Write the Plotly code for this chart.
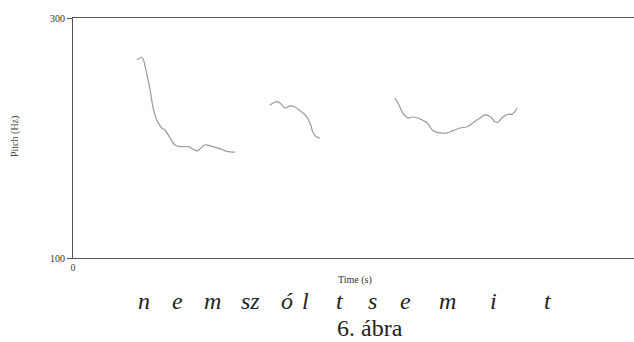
import plotly.graph_objects as go

# Pitch contour segments (time in s, pitch in Hz)
t1 = [0.182, 0.196, 0.200, 0.210, 0.220, 0.228, 0.239, 0.253, 0.262, 0.277, 0.291, 0.305, 0.328,
      0.342, 0.353, 0.362, 0.376, 0.399, 0.419, 0.442, 0.462]
p1 = [265.0, 267.3, 265.8, 253.9, 240.0, 225.8, 215.0, 208.3, 206.7, 200.0, 194.2, 192.8, 192.8,
      190.8, 189.2, 190.8, 194.2, 192.8, 191.1, 188.6, 188.3]
t2 = [0.562, 0.581, 0.590, 0.605, 0.619, 0.633, 0.647, 0.662, 0.676, 0.685, 0.695, 0.705]
p2 = [227.5, 230.3, 229.2, 225.0, 226.7, 225.8, 222.8, 219.2, 212.5, 204.2, 200.8, 200.0]
t3 = [0.918, 0.927, 0.941, 0.955, 0.970, 0.990, 1.010, 1.027, 1.047, 1.067, 1.084, 1.104, 1.124,
      1.141, 1.161, 1.175, 1.190, 1.204, 1.212, 1.226, 1.241, 1.252, 1.267]
p3 = [233.1, 229.2, 220.8, 216.7, 217.5, 215.8, 212.5, 206.1, 204.2, 204.2, 206.1, 208.3, 209.4,
      212.8, 216.7, 219.2, 217.8, 213.6, 213.1, 217.5, 219.8, 219.8, 225.0]

y_ticks = [100, 300]
x_ticks = [0]
words = ["n", "e", "m", "sz", "ó", "l", "t", "s", "e", "m", "i", "t"]
word_px = [144, 177, 212, 250, 287, 305, 340, 372, 405, 447, 493, 548]

W, H = 634, 342
L, R, T, B = 73, 0, 18, 84
pw, ph = W - L - R, H - T - B

fig = go.Figure()
for tx, py in [(t1, p1), (t2, p2), (t3, p3)]:
    fig.add_trace(go.Scatter(x=tx, y=py, mode="lines",
                             line=dict(color="#999999", width=1.2, shape="spline"),
                             showlegend=False, hoverinfo="skip"))

serif = "Liberation Serif"
fig.update_layout(
    width=W, height=H, margin=dict(l=L, r=R, t=T, b=B),
    paper_bgcolor="white", plot_bgcolor="white",
    xaxis=dict(range=[0, 1.6], tickvals=x_ticks, ticktext=["0"], showgrid=False, zeroline=False,
               showline=True, linecolor="#555", linewidth=1, mirror=True, ticks="",
               tickfont=dict(family=serif, size=10, color="#444")),
    yaxis=dict(range=[100, 300], tickvals=y_ticks, showgrid=False, zeroline=False,
               showline=True, linecolor="#555", linewidth=1, ticks="outside", ticklen=5,
               tickcolor="#555", tickfont=dict(family=serif, size=10, color="#333")),
)

def ann(text, px, py, size, color, angle=0):
    return dict(text=text, x=(px - L) / pw, y=(T + ph - py) / ph, xref="paper", yref="paper",
                xanchor="center", yanchor="middle", showarrow=False, textangle=angle,
                font=dict(family=serif, size=size, color=color))

anns = [ann("Time (s)", 355, 280, 10, "#333"),
        ann("Pitch (Hz)", 15, 137, 10, "#444", -90)]
for w, px in zip(words, word_px):
    anns.append(ann("<i>" + w + "</i>", px, 301, 24, "#222"))
anns.append(ann("6. ábra", 370, 328, 24, "#222"))
fig.update_layout(annotations=anns)

fig.write_html("out.html")
